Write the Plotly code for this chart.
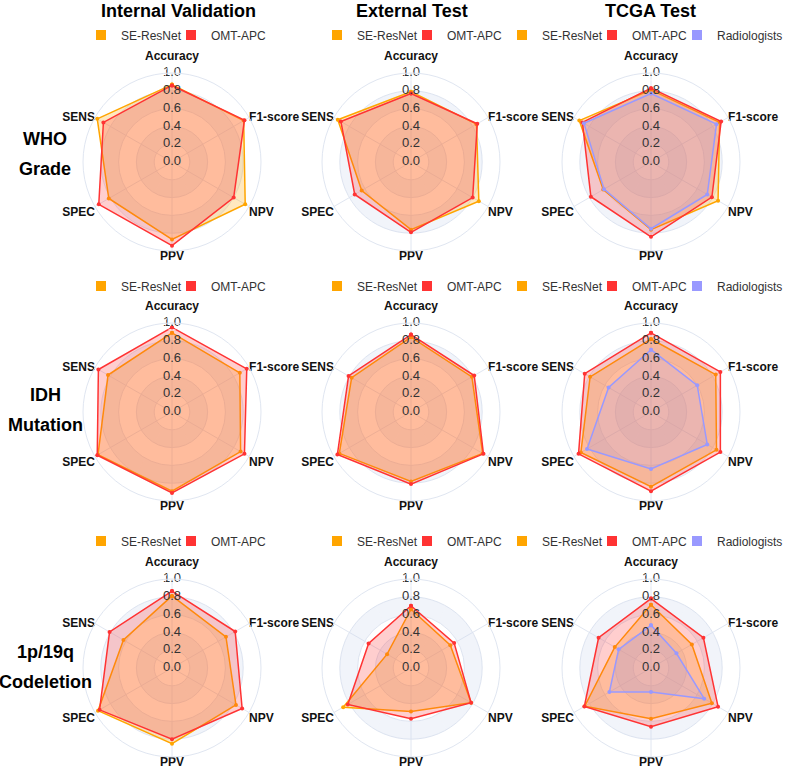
import plotly.graph_objects as go

# ---------------- data ----------------
CATEGORIES = ["Accuracy", "F1-score", "NPV", "PPV", "SPEC", "SENS"]
RADIAL_TICKS = [0.0, 0.2, 0.4, 0.6, 0.8, 1.0]
RADIAL_TICK_LABELS = ["0.0", "0.2", "0.4", "0.6", "0.8", "1.0"]
SHADED_RINGS = [(0.2, 0.4), (0.6, 0.8)]

COLUMN_TITLES = ["Internal Validation", "External Test", "TCGA Test"]
ROW_TITLES = [["WHO", "Grade"], ["IDH", "Mutation"], ["1p/19q", "Codeletion"]]
SERIES = ["SE-ResNet", "OMT-APC", "Radiologists"]

# order: Accuracy, F1-score, NPV, PPV, SPEC, SENS
WHO_INTERNAL_SE = [0.87, 0.93, 0.95, 0.87, 0.82, 0.97]
WHO_INTERNAL_OMT = [0.86, 0.94, 0.80, 0.94, 0.95, 0.89]
WHO_EXTERNAL_SE = [0.79, 0.85, 0.88, 0.76, 0.64, 0.95]
WHO_EXTERNAL_OMT = [0.77, 0.86, 0.80, 0.79, 0.73, 0.91]
WHO_TCGA_SE = [0.81, 0.89, 0.87, 0.76, 0.62, 0.93]
WHO_TCGA_OMT = [0.83, 0.91, 0.79, 0.84, 0.78, 0.89]
WHO_TCGA_RAD = [0.77, 0.85, 0.73, 0.75, 0.61, 0.87]

IDH_INTERNAL_SE = [0.89, 0.88, 0.89, 0.89, 0.96, 0.83]
IDH_INTERNAL_OMT = [0.95, 0.97, 0.94, 0.91, 0.97, 0.955]
IDH_EXTERNAL_SE = [0.84, 0.79, 0.93, 0.78, 0.93, 0.77]
IDH_EXTERNAL_OMT = [0.87, 0.82, 0.94, 0.81, 0.955, 0.81]
IDH_TCGA_SE = [0.82, 0.84, 0.85, 0.84, 0.91, 0.79]
IDH_TCGA_OMT = [0.89, 0.90, 0.90, 0.89, 0.94, 0.86]
IDH_TCGA_RAD = [0.70, 0.60, 0.73, 0.64, 0.83, 0.55]

CODEL_INTERNAL_SE = [0.81, 0.70, 0.83, 0.85, 0.96, 0.63]
CODEL_INTERNAL_OMT = [0.865, 0.82, 0.91, 0.80, 0.94, 0.81]
CODEL_EXTERNAL_SE = [0.66, 0.51, 0.78, 0.49, 0.88, 0.31]
CODEL_EXTERNAL_OMT = [0.70, 0.56, 0.78, 0.57, 0.82, 0.55]
CODEL_TCGA_SE = [0.71, 0.53, 0.79, 0.57, 0.86, 0.47]
CODEL_TCGA_OMT = [0.78, 0.68, 0.87, 0.66, 0.865, 0.68]
CODEL_TCGA_RAD = [0.48, 0.33, 0.69, 0.27, 0.54, 0.42]

PANELS = [
    [
        {"SE-ResNet": WHO_INTERNAL_SE, "OMT-APC": WHO_INTERNAL_OMT},
        {"SE-ResNet": WHO_EXTERNAL_SE, "OMT-APC": WHO_EXTERNAL_OMT},
        {"SE-ResNet": WHO_TCGA_SE, "OMT-APC": WHO_TCGA_OMT, "Radiologists": WHO_TCGA_RAD},
    ],
    [
        {"SE-ResNet": IDH_INTERNAL_SE, "OMT-APC": IDH_INTERNAL_OMT},
        {"SE-ResNet": IDH_EXTERNAL_SE, "OMT-APC": IDH_EXTERNAL_OMT},
        {"SE-ResNet": IDH_TCGA_SE, "OMT-APC": IDH_TCGA_OMT, "Radiologists": IDH_TCGA_RAD},
    ],
    [
        {"SE-ResNet": CODEL_INTERNAL_SE, "OMT-APC": CODEL_INTERNAL_OMT},
        {"SE-ResNet": CODEL_EXTERNAL_SE, "OMT-APC": CODEL_EXTERNAL_OMT},
        {"SE-ResNet": CODEL_TCGA_SE, "OMT-APC": CODEL_TCGA_OMT, "Radiologists": CODEL_TCGA_RAD},
    ],
]

# ---------------- style / layout ----------------
W, H = 787, 776
COL_CX = [172, 411, 651]
ROW_CY = [162, 412, 668]
RADIUS = 89
LEGEND_CX = [176, 412, None]
LEGEND_CY = [35, 286, 541]
TITLE_CX = [178, 412, 650]
TITLE_CY = 11
ROW_LABEL_CX = 45
ROW_LABEL_CY = [[139, 169], [395, 425], [652, 682]]

# axis-name placement around the outer circle (ECharts-like)
AXIS_NAME_POS = ["top center", "middle right", "bottom right",
                 "bottom center", "bottom left", "middle left"]
AXIS_NAME_PAD = [14, 0, 0, 0, 0, 0]   # invisible marker sizes used as text offset

FONT = "Arial, Liberation Sans, Helvetica, sans-serif"
GRID = "#E0E6F1"
LINE_COLORS = {"SE-ResNet": "#FFA500", "OMT-APC": "#FF3333", "Radiologists": "#9999FF"}
FILL_COLORS = {
    "SE-ResNet": "rgba(255,165,0,0.25)",
    "OMT-APC": "rgba(255,51,51,0.24)",
    "Radiologists": "rgba(153,153,255,0.2)",
}
RING_COLOR = "rgba(210,219,238,0.3)"
LEGEND_TEXT_W = {"SE-ResNet": 60, "OMT-APC": 55, "Radiologists": 65}

fig = go.Figure()
layout = dict(
    width=W, height=H,
    margin=dict(l=0, r=0, t=0, b=0, autoexpand=False),
    paper_bgcolor="white",
    plot_bgcolor="white",
    font=dict(family=FONT, color="#333"),
    annotations=[],
)

k = 0
for i in range(3):
    for j in range(3):
        k += 1
        pid = "polar" if k == 1 else f"polar{k}"
        lid = "legend" if k == 1 else f"legend{k}"
        panel = PANELS[i][j]

        # background rings
        for lo, hi in SHADED_RINGS:
            fig.add_trace(go.Barpolar(
                r=[hi - lo] * len(CATEGORIES), base=[lo] * len(CATEGORIES),
                theta=CATEGORIES, marker=dict(color=RING_COLOR, line=dict(width=0)),
                showlegend=False, hoverinfo="skip", subplot=pid,
            ))

        # series
        for name, vals in panel.items():
            fig.add_trace(go.Scatterpolar(
                r=vals + vals[:1], theta=CATEGORIES + CATEGORIES[:1],
                mode="lines+markers", fill="toself",
                fillcolor=FILL_COLORS[name],
                line=dict(color=LINE_COLORS[name], width=1.5),
                marker=dict(color=LINE_COLORS[name], size=4),
                name=name, showlegend=False, subplot=pid,
            ))

        # legend entries
        names = list(panel.keys())
        for n_i, name in enumerate(names):
            last = n_i == len(names) - 1
            fig.add_trace(go.Scatterpolar(
                r=[None], theta=[None], mode="markers",
                marker=dict(symbol="square", size=10, color=LINE_COLORS[name]),
                name=name, showlegend=True, legend=lid, subplot=pid,
                legendwidth=LEGEND_TEXT_W[name] if last else LEGEND_TEXT_W[name] - 15,
                hoverinfo="skip",
            ))

        # radial tick labels along the Accuracy axis
        fig.add_trace(go.Scatterpolar(
            r=RADIAL_TICKS, theta=[CATEGORIES[0]] * len(RADIAL_TICKS),
            mode="text", text=RADIAL_TICK_LABELS, textposition="middle center",
            textfont=dict(family=FONT, size=13, color="#333"),
            showlegend=False, hoverinfo="skip", subplot=pid, cliponaxis=False,
        ))

        # axis names at the outer circle
        fig.add_trace(go.Scatterpolar(
            r=[RADIAL_TICKS[-1]] * len(CATEGORIES), theta=CATEGORIES,
            mode="markers+text", text=CATEGORIES, textposition=AXIS_NAME_POS,
            marker=dict(size=AXIS_NAME_PAD, color="rgba(0,0,0,0)"),
            textfont=dict(family=FONT, size=12, color="#111", weight="bold"),
            showlegend=False, hoverinfo="skip", subplot=pid, cliponaxis=False,
        ))

        cx, cy = COL_CX[j], ROW_CY[i]
        layout[pid] = dict(
            domain=dict(x=[(cx - RADIUS) / W, (cx + RADIUS) / W],
                        y=[1 - (cy + RADIUS) / H, 1 - (cy - RADIUS) / H]),
            bgcolor="white",
            bargap=0,
            radialaxis=dict(range=[0, 1], tickvals=RADIAL_TICKS[1:], showticklabels=False,
                            ticks="", showline=False, gridcolor=GRID, gridwidth=1, angle=90),
            angularaxis=dict(type="category", categoryorder="array", categoryarray=CATEGORIES,
                             rotation=90, direction="clockwise", gridcolor=GRID,
                             showline=True, linecolor=GRID, linewidth=1,
                             ticks="", showticklabels=False),
        )

        leg = dict(orientation="h", yanchor="middle", y=1 - LEGEND_CY[i] / H,
                   font=dict(family=FONT, size=12, color="#333"),
                   bgcolor="rgba(0,0,0,0)", itemwidth=30, itemclick=False,
                   itemdoubleclick=False)
        if LEGEND_CX[j] is None:
            leg.update(x=1.0, xanchor="right")
        else:
            leg.update(x=LEGEND_CX[j] / W, xanchor="center")
        layout[lid] = leg

for j, t in enumerate(COLUMN_TITLES):
    layout["annotations"].append(dict(
        text=t, x=TITLE_CX[j] / W, y=1 - TITLE_CY / H, xref="paper", yref="paper",
        xanchor="center", yanchor="middle", showarrow=False,
        font=dict(family=FONT, size=18, color="#000", weight="bold")))

for i, lines in enumerate(ROW_TITLES):
    for line, ly in zip(lines, ROW_LABEL_CY[i]):
        layout["annotations"].append(dict(
            text=line, x=ROW_LABEL_CX / W, y=1 - ly / H, xref="paper", yref="paper",
            xanchor="center", yanchor="middle", showarrow=False,
            font=dict(family=FONT, size=18, color="#000", weight="bold")))

fig.update_layout(**layout)
fig.write_html("out.html")
